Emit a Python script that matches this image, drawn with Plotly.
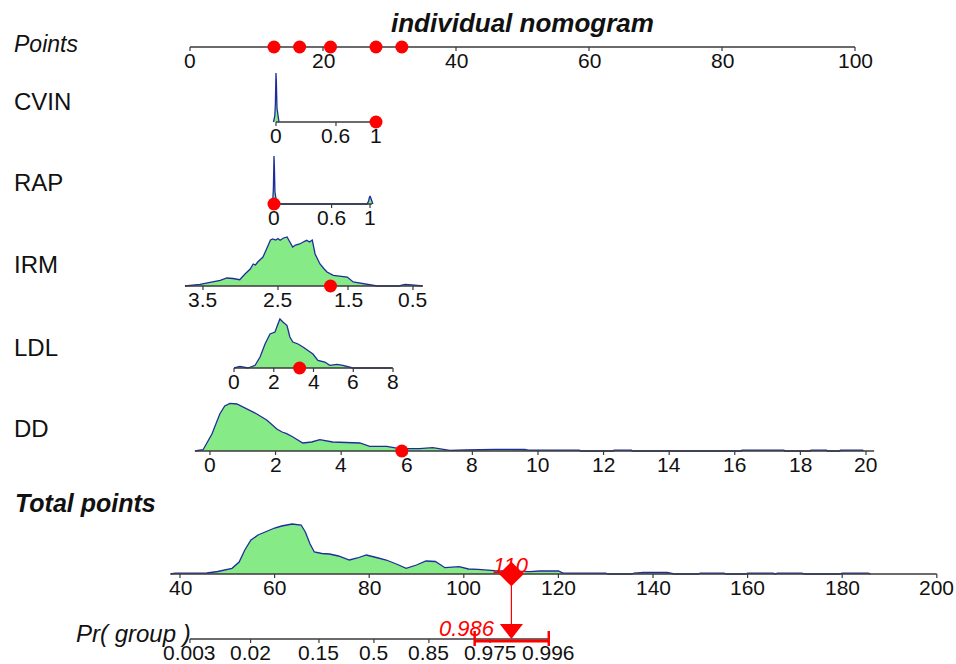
import numpy as np
import plotly.graph_objects as go

# ------------------------------------------------------------------ data
TITLE = "individual nomogram"
points_ticks = [0, 20, 40, 60, 80, 100]

# each predictor: value -> points scale
cvin_scale_values = [0, 1]
cvin_scale_points = [12.93, 27.97]
cvin_ticks = [0, 0.6, 1]
cvin_ticktext = ["0", "0.6", "1"]
cvin_line = [0, 1]
cvin_density_x = [-0.025, -0.012, -0.006, -0.002, 0.0, 0.004, 0.01, 0.02, 0.03]
cvin_density_h = [0, 6, 18, 44, 49, 40, 14, 4, 0]
cvin_obs = 1

rap_scale_values = [0, 1]
rap_scale_points = [12.63, 27.07]
rap_ticks = [0, 0.6, 1]
rap_ticktext = ["0", "0.6", "1"]
rap_line = [0, 1.02]
rap_density_x = [-0.025, -0.012, -0.006, -0.002, 0.0, 0.004, 0.01, 0.02, 0.03,
                 0.97, 0.985, 0.995, 1.0, 1.008, 1.02, 1.03]
rap_density_h = [0, 5, 16, 44, 48, 38, 12, 3, 0,
                 0, 3, 7, 8, 6, 2, 0]
rap_obs = 0

irm_scale_values = [3.5, 2.5, 1.5, 0.5]
irm_scale_points = [1.95, 13.23, 23.76, 33.53]
irm_ticks = [3.5, 2.5, 1.5, 0.5]
irm_ticktext = ["3.5", "2.5", "1.5", "0.5"]
irm_line = [3.74, 0.35]
irm_density_x = [3.74, 3.54, 3.27, 3.18, 3.10, 3.01, 2.94, 2.87, 2.83, 2.80, 2.77,
                 2.72, 2.70, 2.67, 2.63, 2.60, 2.57, 2.53, 2.50, 2.47, 2.42, 2.37,
                 2.33, 2.29, 2.25, 2.19, 2.14, 2.09, 2.05, 2.01, 1.97, 1.90, 1.84,
                 1.80, 1.71, 1.60, 1.51, 1.42, 1.30, 1.21, 1.05, 0.72, 0.62, 0.52, 0.35]
irm_density_h = [0, 1.7, 5.7, 8, 7.5, 6.3, 12, 17, 22, 21, 24,
                 27, 29, 34, 42, 46, 47, 46, 47.5, 45.7, 48, 49,
                 44, 39, 41, 42, 44, 45.7, 44, 46, 32, 22, 17,
                 14, 10.7, 10, 9, 4, 2.5, 1.7, 0, 0, 1.7, 1.2, 0]
irm_obs = 1.75

ldl_scale_values = [0, 8]
ldl_scale_points = [6.62, 30.53]
ldl_ticks = [0, 2, 4, 6, 8]
ldl_ticktext = ["0", "2", "4", "6", "8"]
ldl_line = [0, 8]
ldl_density_x = [0.0, 0.30, 0.70, 1.06, 1.31, 1.56, 1.81, 2.06, 2.21, 2.31, 2.46,
                 2.66, 2.71, 2.81, 2.96, 3.22, 3.47, 3.72, 3.97, 4.22, 4.57, 4.82,
                 5.18, 5.48, 5.98, 7.94]
ldl_density_h = [0, 1.7, 0, 2.7, 11, 24, 34, 36, 44, 49, 46,
                 42.7, 39, 31, 26, 24, 21, 17.7, 14, 7.7, 6, 2.7,
                 3.7, 2.7, 0, 0]
ldl_obs = 3.3

dd_scale_values = [0, 20]
dd_scale_points = [3.0, 101.65]
dd_ticks = [0, 2, 4, 6, 8, 10, 12, 14, 16, 18, 20]
dd_ticktext = [str(t) for t in dd_ticks]
dd_line = [-0.45, 20.25]
dd_density_x = [-0.46, -0.21, 0.06, 0.30, 0.45, 0.61, 0.82, 1.13, 1.43, 1.74, 2.04,
                2.2, 2.34, 2.53, 2.83, 3.1, 3.35, 3.74, 4.17, 4.57, 4.87, 5.39,
                5.78, 6.39, 6.79, 7.31, 7.8, 8.22, 8.7, 9.6, 9.7, 11.26, 11.3,
                12.3, 12.32, 12.85, 12.87, 16.2, 16.22, 17.5, 17.52, 18.3, 18.32,
                18.8, 18.82, 19.2, 19.22, 19.9, 19.92]
dd_density_h = [0, 1.3, 17, 37, 45, 47.7, 47, 42, 37, 30.7, 22,
                19, 17.3, 14, 8, 9, 11.3, 9, 8.3, 8, 4.7, 4.7,
                2.3, 2.3, 3.3, 0.7, 1.0, 1.3, 1.6, 1.5, 0.8, 0.8, 0,
                0, 0.8, 0.8, 0, 0, 0.8, 0.8, 0, 0, 0.8,
                0.8, 0, 0, 0.8, 0.8, 0]
dd_obs = 5.85

total_ticks = [40, 60, 80, 100, 120, 140, 160, 180, 200]
total_line = [38, 200]
total_density_x = [38, 39, 45.7, 48, 51, 52.5, 53.7, 55, 56.5, 58, 60, 61.5, 63.7,
                   65.6, 66.5, 67.5, 68.4, 70, 71.6, 73.5, 75.8, 77.5, 79.4, 81.5,
                   83.6, 86, 87.8, 90, 92, 94, 96, 99, 101, 103, 106.5, 110, 114,
                   116, 118, 120, 121, 130, 130.5, 135.5, 136, 138, 143, 144, 144.5,
                   149.5, 150, 155, 155.5, 159.5, 160, 165.4, 165.8, 166.3, 171.5,
                   172, 179.5, 180, 185.5, 186]
total_density_h = [0, 0.8, 1, 2.5, 5.7, 12, 24, 34, 39, 42, 46, 48, 50,
                   49, 42, 30, 22, 20.5, 20, 18, 14, 16, 19, 16.5,
                   14, 9.5, 5.7, 9, 13, 12.5, 6.3, 7.3, 5, 4.7, 3.3, 2.8, 2.3,
                   3, 3.3, 3, 0.8, 0.8, 0, 0, 0.8, 1.5, 1.5, 0.8, 0,
                   0, 0.8, 0.8, 0, 0, 0.8, 0.8, 0, 0.8, 0.8,
                   0, 0, 0.8, 0.8, 0]

pr_ticks = [0.003, 0.02, 0.15, 0.5, 0.85, 0.975, 0.996]
pr_ticktext = ["0.003", "0.02", "0.15", "0.5", "0.85", "0.975", "0.996"]
pr_line = [0.003, 0.996]
pr_center_points = 81.0     # total points where Pr = 0.5
pr_points_per_logit = 6.7
pr_obs_text = "0.986"
pr_ci = [0.960, 0.996]

# ------------------------------------------------------------------ style / layout
W, H = 956, 664
FONT = "Liberation Sans, Arial, sans-serif"
GREEN = "#86EA86"
BLUE = "#1f2d9c"
AXIS = "#3a3a3a"
RED = "#FF0000"
TXT = "#111111"

PTS_PX0, PTS_PXPER = 190, 6.65      # points axis: x pixel of 0 and pixels per point
TOT_PX0, TOT_PXPER = 180, 4.73      # total points axis: x pixel of 40 and pixels per point

base = dict(points=47, cvin=122, rap=204, irm=286, ldl=368, dd=451, total=574, pr=639)


def make_scale(vals, pts):
    v = np.asarray(vals, float)
    p = np.asarray(pts, float)
    o = np.argsort(v)
    v, p = v[o], p[o]

    def f(x):
        x = np.asarray(x, float)
        y = np.interp(x, v, p)
        y = np.where(x < v[0], p[0] + (x - v[0]) * (p[1] - p[0]) / (v[1] - v[0]), y)
        y = np.where(x > v[-1], p[-1] + (x - v[-1]) * (p[-1] - p[-2]) / (v[-1] - v[-2]), y)
        return y
    return f


def pr_scale(p):
    p = np.asarray(p, float)
    return pr_center_points + pr_points_per_logit * np.log(p / (1 - p))


fig = go.Figure()
annotations = []


def add_row(xa, f, line_range, ticks, ticktext, y0, dens_x=None, dens_h=None, obs=None):
    if dens_x is not None:
        xs = f(dens_x)
        ys = y0 - np.asarray(dens_h, float)
        fig.add_trace(go.Scatter(x=xs, y=ys, mode="lines", fill="toself", fillcolor=GREEN,
                                 line=dict(color=BLUE, width=1.3), xaxis=xa, yaxis="y",
                                 hoverinfo="skip"))
    fig.add_trace(go.Scatter(x=f(line_range), y=[y0, y0], mode="lines",
                             line=dict(color=AXIS, width=1.4), xaxis=xa, yaxis="y",
                             hoverinfo="skip"))
    tx, ty = [], []
    for t in ticks:
        px = float(f(t))
        tx += [px, px, None]
        ty += [y0, y0 + 4, None]
    fig.add_trace(go.Scatter(x=tx, y=ty, mode="lines", line=dict(color=AXIS, width=1.2),
                             xaxis=xa, yaxis="y", hoverinfo="skip"))
    for t, lab in zip(ticks, ticktext):
        annotations.append(dict(x=float(f(t)), y=y0 + 13, xref=xa, yref="y", text=lab,
                                showarrow=False, xanchor="center", yanchor="middle",
                                font=dict(family=FONT, size=21, color=TXT)))
    if obs is not None:
        fig.add_trace(go.Scatter(x=[float(f(obs))], y=[y0], mode="markers",
                                 marker=dict(color=RED, size=13, line=dict(width=0)),
                                 xaxis=xa, yaxis="y", hoverinfo="skip"))


ident = lambda x: np.asarray(x, float)

f_cvin = make_scale(cvin_scale_values, cvin_scale_points)
f_rap = make_scale(rap_scale_values, rap_scale_points)
f_irm = make_scale(irm_scale_values, irm_scale_points)
f_ldl = make_scale(ldl_scale_values, ldl_scale_points)
f_dd = make_scale(dd_scale_values, dd_scale_points)

add_row("x", ident, [0, 100], points_ticks, [str(t) for t in points_ticks], base["points"])
add_row("x", f_cvin, cvin_line, cvin_ticks, cvin_ticktext, base["cvin"], cvin_density_x, cvin_density_h, cvin_obs)
add_row("x", f_rap, rap_line, rap_ticks, rap_ticktext, base["rap"], rap_density_x, rap_density_h, rap_obs)
add_row("x", f_irm, irm_line, irm_ticks, irm_ticktext, base["irm"], irm_density_x, irm_density_h, irm_obs)
add_row("x", f_ldl, ldl_line, ldl_ticks, ldl_ticktext, base["ldl"], ldl_density_x, ldl_density_h, ldl_obs)
add_row("x", f_dd, dd_line, dd_ticks, dd_ticktext, base["dd"], dd_density_x, dd_density_h, dd_obs)

# observation points on the Points axis
obs_points = [float(f_cvin(cvin_obs)), float(f_rap(rap_obs)), float(f_irm(irm_obs)),
              float(f_ldl(ldl_obs)), float(f_dd(dd_obs))]
fig.add_trace(go.Scatter(x=obs_points, y=[base["points"]] * len(obs_points), mode="markers",
                         marker=dict(color=RED, size=13, line=dict(width=0)),
                         xaxis="x", yaxis="y", hoverinfo="skip"))
total_obs = sum(obs_points)

add_row("x2", ident, total_line, total_ticks, [str(t) for t in total_ticks], base["total"],
        total_density_x, total_density_h)
add_row("x2", pr_scale, pr_line, pr_ticks, pr_ticktext, base["pr"])

# red observation path: total points -> probability
fig.add_trace(go.Scatter(x=[total_obs, total_obs], y=[base["total"], base["pr"] - 12], mode="lines",
                         line=dict(color=RED, width=1.2), xaxis="x2", yaxis="y", hoverinfo="skip"))
ci = pr_scale(pr_ci)
fig.add_trace(go.Scatter(x=[ci[0], ci[1]], y=[base["pr"] + 2, base["pr"] + 2], mode="lines",
                         line=dict(color=RED, width=3), xaxis="x2", yaxis="y", hoverinfo="skip"))
fig.add_trace(go.Scatter(x=[ci[0], ci[0], None, ci[1], ci[1]],
                         y=[base["pr"] - 8, base["pr"] + 7, None, base["pr"] - 8, base["pr"] + 7],
                         mode="lines", line=dict(color=RED, width=2.5), xaxis="x2", yaxis="y",
                         hoverinfo="skip"))
fig.add_trace(go.Scatter(x=[total_obs], y=[base["total"]], mode="markers",
                         marker=dict(color=RED, symbol="diamond", size=19, line=dict(width=0)),
                         xaxis="x2", yaxis="y", hoverinfo="skip"))
fig.add_trace(go.Scatter(x=[total_obs], y=[base["pr"] - 10], mode="markers",
                         marker=dict(color=RED, symbol="triangle-down", size=20, line=dict(width=0)),
                         xaxis="x2", yaxis="y", hoverinfo="skip"))
annotations.append(dict(x=total_obs, y=base["total"] - 9, xref="x2", yref="y",
                        text="<i>%d</i>" % round(total_obs), showarrow=False,
                        xanchor="center", yanchor="middle",
                        font=dict(family=FONT, size=22, color=RED)))
annotations.append(dict(x=total_obs, y=base["pr"] - 11, xref="x2", yref="y",
                        text="<i>%s</i>" % pr_obs_text, showarrow=False,
                        xanchor="right", yanchor="middle", xshift=-14,
                        font=dict(family=FONT, size=22, color=RED)))

# row names
names = [("<i>Points</i>", 12, 43.5, 23), ("CVIN", 12, 101, 24), ("RAP", 12, 182.5, 24),
         ("IRM", 12, 264, 24), ("LDL", 12, 347.5, 24), ("DD", 12, 428.5, 24),
         ("<b><i>Total points</i></b>", 13, 503, 25), ("<i>Pr( group )</i>", 74, 633, 24)]
for txt, px, py, sz in names:
    annotations.append(dict(x=px / W, y=py, xref="paper", yref="y", text=txt, showarrow=False,
                            xanchor="left", yanchor="middle",
                            font=dict(family=FONT, size=sz, color=TXT)))
annotations.append(dict(x=522 / W, y=23, xref="paper", yref="y", text="<b><i>%s</i></b>" % TITLE,
                        showarrow=False, xanchor="center", yanchor="middle",
                        font=dict(family=FONT, size=26, color=TXT)))

fig.update_layout(
    width=W, height=H, margin=dict(l=0, r=0, t=0, b=0),
    paper_bgcolor="white", plot_bgcolor="white", showlegend=False,
    xaxis=dict(range=[-PTS_PX0 / PTS_PXPER, (W - PTS_PX0) / PTS_PXPER], visible=False,
               domain=[0, 1], fixedrange=True),
    xaxis2=dict(range=[40 - TOT_PX0 / TOT_PXPER, 40 + (W - TOT_PX0) / TOT_PXPER], visible=False,
                overlaying="x", anchor="y", fixedrange=True),
    yaxis=dict(range=[H, 0], visible=False, domain=[0, 1], fixedrange=True),
    annotations=annotations,
)

fig.write_html("out.html", config={"displayModeBar": False},
               post_script="document.body.style.margin='0';document.body.style.overflow='hidden';")
